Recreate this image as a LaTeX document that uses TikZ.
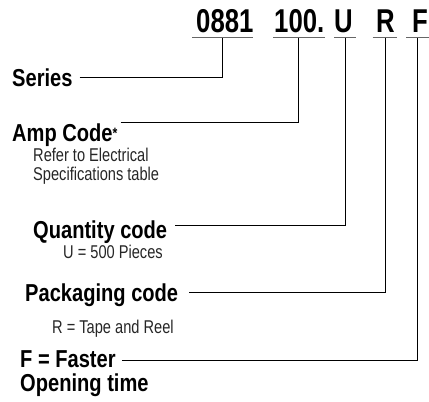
\documentclass[tikz,border=0pt]{standalone}
\usepackage{fontspec}
\setmainfont{Liberation Sans}
\newfontfamily\codefam[FakeStretch=0.78]{Liberation Sans}
\newfontfamily\labfam[FakeStretch=0.82]{Liberation Sans}
\newfontfamily\notefam[FakeStretch=0.79]{Liberation Sans}
\tikzset{
  code/.style={font=\codefam\bfseries\fontsize{33}{33}\selectfont, inner sep=0pt, anchor=base west},
  lab/.style={font=\labfam\bfseries\fontsize{24.5}{24.5}\selectfont, inner sep=0pt, anchor=base west},
  note/.style={font=\notefam\fontsize{18.5}{18.5}\selectfont, inner sep=0pt, anchor=base west, text=black!85},
  uline/.style={line width=1.6pt, draw=black!60},
  conn/.style={line width=0.9pt, draw=black}
}
\begin{document}
\begin{tikzpicture}[x=1pt, y=-1pt]
\useasboundingbox (0,0) rectangle (429,402);
% part number codes
\node[code] (c1) at (196,32) {0881};
\node[code] (c2) at (274,32) {100.};
\node[code] (c3) at (334,32) {U};
\node[code] (c4) at (376,32) {R};
\node[code] (c5) at (412,32) {F};
% underlines
\coordinate (u1a) at (192,37.5); \coordinate (u1b) at (253,37.5);
\coordinate (u2a) at (273,37.5); \coordinate (u2b) at (325,37.5);
\coordinate (u3a) at (334,37.5); \coordinate (u3b) at (355.5,37.5);
\coordinate (u4a) at (372.5,37.5); \coordinate (u4b) at (397,37.5);
\coordinate (u5a) at (406,37.5); \coordinate (u5b) at (429,37.5);
\draw[uline] (u1a) -- (u1b);
\draw[uline] (u2a) -- (u2b);
\draw[uline] (u3a) -- (u3b);
\draw[uline] (u4a) -- (u4b);
\draw[uline] (u5a) -- (u5b);
% taps
\coordinate (t1) at (222.3,37.5);
\coordinate (t2) at (298,37.5);
\coordinate (t3) at (345,37.5);
\coordinate (t4) at (385,37.5);
\coordinate (t5) at (417.3,37.5);
% labels
\node[lab] (series) at (12,86) {Series};
\node[lab] (amp) at (12,141.5) {Amp Code\raisebox{3.5pt}{\fontsize{15}{15}\selectfont *}};
\node[note] (ref1) at (33,161.5) {Refer to Electrical};
\node[note] (ref2) at (33,180) {Specifications table};
\node[lab] (qty) at (33,238) {Quantity code};
\node[note] (qtyn) at (63,258) {U = 500 Pieces};
\node[lab] (pkg) at (25,301.5) {Packaging code};
\node[note] (pkgn) at (52,333) {R = Tape and Reel};
\node[lab] (fast) at (20,367.5) {F = Faster};
\node[lab] (open) at (20,391) {Opening time};
% connectors
\draw[conn] ([xshift=7pt, yshift=9pt]series.base east) -| (t1);
\draw[conn] ([xshift=3pt, yshift=19.5pt]amp.base east) -| (t2);
\draw[conn] ([xshift=8pt, yshift=13pt]qty.base east) -| (t3);
\draw[conn] ([xshift=11pt, yshift=9.5pt]pkg.base east) -| (t4);
\draw[conn] ([xshift=6pt, yshift=7pt]fast.base east) -| (t5);
\end{tikzpicture}
\end{document}
